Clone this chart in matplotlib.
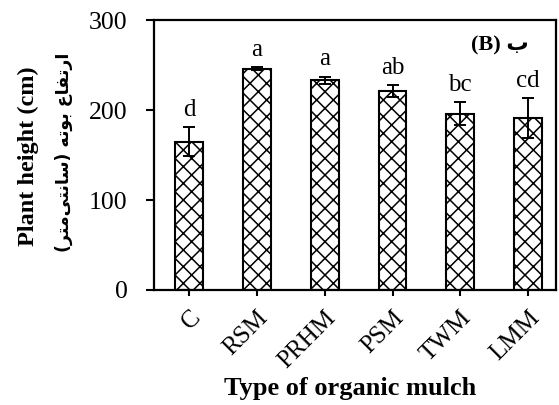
import matplotlib
matplotlib.use("Agg")
import matplotlib.pyplot as plt
import numpy as np

categories = ["C", "RSM", "PRHM", "PSM", "TWM", "LMM"]
means = [165, 246, 233, 221, 196, 191]
errors = [16, 2, 4, 7, 13, 22]
letters = ["d", "a", "a", "ab", "bc", "cd"]
yticks = [0, 100, 200, 300]

plt.rcParams['hatch.linewidth'] = 1.1
serif = ['Liberation Serif', 'DejaVu Sans']

fig = plt.figure(figsize=(5.59, 4.05), dpi=100)
ax = fig.add_axes([0.2755, 0.284, 0.719, 0.6665])

x = np.arange(len(categories))
ax.bar(x, means, width=0.41, color='white', edgecolor='black', linewidth=1.5,
       hatch='xx', zorder=2)
ax.errorbar(x, means, yerr=errors, fmt='none', ecolor='black', elinewidth=1.4,
            capsize=4, capthick=1.4, zorder=3)

for xi, m, e, l in zip(x, means, errors, letters):
    ax.text(xi, m + e + 7, l, ha='center', va='bottom', fontsize=18,
            family=serif)

ax.set_xlim(-0.52, 5.41)
ax.set_ylim(0, 300)
ax.set_yticks(yticks)
ax.set_yticklabels([str(t) for t in yticks], family=serif, fontsize=18.5)
ax.set_xticks(x)
ax.set_xticklabels(categories, rotation=45, ha='right', va='top',
                   rotation_mode='anchor', family=serif, fontsize=18)
ax.tick_params(axis='y', direction='out', length=6, width=1.5, pad=13)
ax.tick_params(axis='x', direction='out', length=4, width=1.5, pad=8)
for s in ax.spines.values():
    s.set_linewidth(1.6)

ax.set_xlabel("Type of organic mulch", family=serif, fontsize=19,
              fontweight='bold')
ax.xaxis.set_label_coords(0.4876, -0.322)

# y-axis labels (English + Persian)
fig.text(0.05, 0.615, "Plant height (cm)", rotation=90, ha='center',
         va='center', family=serif, fontsize=17.5, fontweight='bold')
persian = ("(" + "\uFEAE\uFE98\uFEE3" + "\uFEF0\uFE98\uFEE7\uFE8E\uFEB3" + ")"
           + " " + "\uFEEA\uFE97\uFEEE\uFE91" + " "
           + "\uFEC9\uFE8E\uFED4\uFE97\uFEAD\uFE8D")
fig.text(0.115, 0.625, persian, rotation=90, ha='center', va='center',
         family=['DejaVu Sans'], fontsize=12.5, fontweight='bold')

ax.text(0.86, 0.905, "(B) \uFE8F", transform=ax.transAxes, ha='center',
        va='center', family=serif, fontsize=16, fontweight='bold')

fig.savefig("out.png", dpi=100)
